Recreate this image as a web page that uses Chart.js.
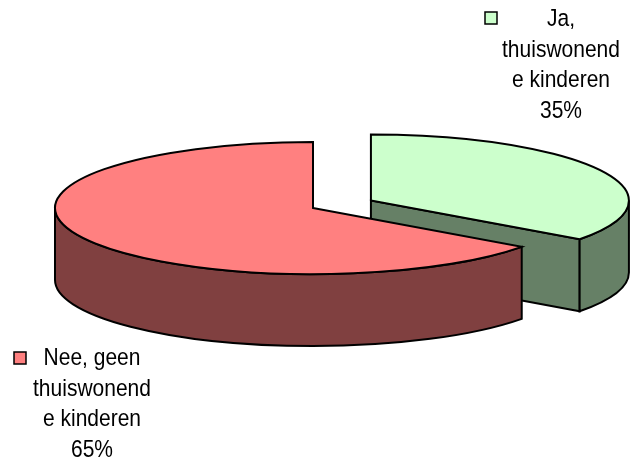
<!DOCTYPE html>
<html>
<head>
<meta charset="utf-8">
<script src="https://cdn.jsdelivr.net/npm/chart.js@4.4.1/dist/chart.umd.min.js"></script>
<style>
  html, body { margin: 0; padding: 0; background: #fff; }
</style>
</head>
<body>
<canvas id="pieChart" width="631" height="463"></canvas>
<script>
const categories = ['Ja, thuiswonende kinderen', 'Nee, geen thuiswonende kinderen'];
const values = [35, 65];
// label text as Excel wrapped it
const labelLines = [['Ja,', 'thuiswonend', 'e kinderen'], ['Nee, geen', 'thuiswonend', 'e kinderen']];

const topColors = ['#CCFFCC', '#FF8080'];
const sideColors = ['#668066', '#804040'];
const explode = [65, 0];

const tilt = 0.256;  // ellipse ry / rx
const depth = 72;

function ellPt(cx, cy, r, a) {
  return [cx + r * Math.cos(a), cy + r * Math.sin(a) * tilt];
}

// fake 3D: squash the pie into an ellipse and add the side walls
const pie3d = {
  id: 'pie3d',
  beforeDatasetsDraw(chart) {
    const ctx = chart.ctx;
    const arcs = chart.getDatasetMeta(0).data;
    arcs.forEach((arc, i) => {
      const {x, y, startAngle, endAngle, outerRadius} = arc.getProps(['x', 'y', 'startAngle', 'endAngle', 'outerRadius'], true);
      const mid = (startAngle + endAngle) / 2;
      const cx = x + Math.cos(mid) * explode[i];
      const cy = y + Math.sin(mid) * explode[i] * tilt;
      const r = outerRadius;

      ctx.save();
      ctx.lineWidth = 2;
      ctx.strokeStyle = '#000';
      ctx.lineJoin = 'miter';
      ctx.fillStyle = sideColors[i];

      // radial walls, only the ones facing the viewer
      [[startAngle, -1], [endAngle, 1]].forEach(([a, s]) => {
        const n = a + s * Math.PI / 2;
        if (Math.sin(n) > 0.01) {
          const p = ellPt(cx, cy, r, a);
          ctx.beginPath();
          ctx.moveTo(cx, cy);
          ctx.lineTo(p[0], p[1]);
          ctx.lineTo(p[0], p[1] + depth);
          ctx.lineTo(cx, cy + depth);
          ctx.closePath();
          ctx.fill();
          ctx.stroke();
        }
      });

      // outer wall on the front half
      [-2 * Math.PI, 0, 2 * Math.PI].forEach(k => {
        const lo = Math.max(startAngle, k);
        const hi = Math.min(endAngle, k + Math.PI);
        if (hi - lo > 0.001) {
          const p1 = ellPt(cx, cy, r, lo);
          const p2 = ellPt(cx, cy, r, hi);
          ctx.beginPath();
          ctx.moveTo(p1[0], p1[1]);
          ctx.ellipse(cx, cy, r, r * tilt, 0, lo, hi);
          ctx.lineTo(p2[0], p2[1] + depth);
          ctx.ellipse(cx, cy + depth, r, r * tilt, 0, hi, lo, true);
          ctx.closePath();
          ctx.fill();
          ctx.stroke();
        }
      });

      // top face, drawn by the arc element itself in squashed space
      ctx.save();
      ctx.translate(cx, cy);
      ctx.scale(1, tilt);
      ctx.translate(-x, -y);
      arc.draw(ctx);
      ctx.restore();

      ctx.beginPath();
      ctx.moveTo(cx, cy);
      ctx.ellipse(cx, cy, r, r * tilt, 0, startAngle, endAngle);
      ctx.closePath();
      ctx.stroke();
      ctx.restore();
    });
    return false;
  },
  afterDraw(chart, args, opts) {
    const ctx = chart.ctx;
    const total = values.reduce((a, b) => a + b, 0);
    ctx.save();
    ctx.font = '21px "Liberation Sans", Arial, sans-serif';
    ctx.textAlign = 'center';
    ctx.textBaseline = 'alphabetic';
    opts.positions.forEach((pos, i) => {
      const lines = labelLines[i].concat(Math.round(values[i] / total * 100) + '%');
      ctx.fillStyle = '#000';
      lines.forEach((t, j) => {
        // the original text is a little stretched vertically
        ctx.save();
        ctx.translate(pos.x, pos.y + j * 30.5);
        ctx.scale(1, 1.18);
        ctx.fillText(t, 0, 0);
        ctx.restore();
      });
      ctx.fillStyle = topColors[i];
      ctx.fillRect(pos.bx, pos.by, 12, 12);
      ctx.lineWidth = 1.5;
      ctx.strokeStyle = '#000';
      ctx.strokeRect(pos.bx, pos.by, 12, 12);
    });
    ctx.restore();
  }
};

new Chart(document.getElementById('pieChart').getContext('2d'), {
  type: 'pie',
  data: {
    labels: categories,
    datasets: [{
      data: values,
      backgroundColor: topColors,
      borderWidth: 0
    }]
  },
  options: {
    responsive: false,
    animation: false,
    radius: 258,
    layout: { padding: { left: 0, right: 5, top: 0, bottom: 47 } },
    plugins: {
      legend: { display: false },
      tooltip: { enabled: false },
      pie3d: {
        positions: [
          { x: 561, y: 26, bx: 485, by: 12 },
          { x: 92, y: 365, bx: 14, by: 352 }
        ]
      }
    }
  },
  plugins: [pie3d]
});
</script>
</body>
</html>
